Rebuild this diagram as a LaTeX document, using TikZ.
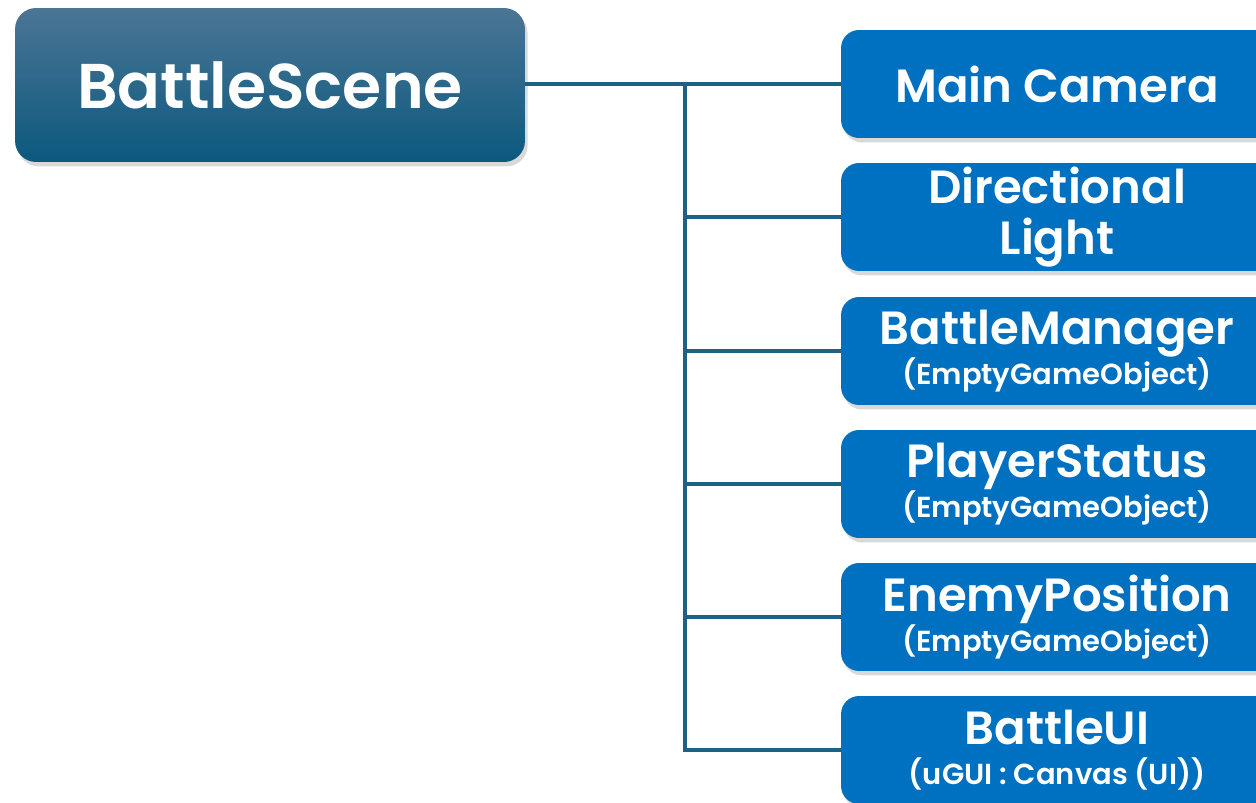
\documentclass[tikz,border=0pt]{standalone}
\usepackage{fontspec}
\setmainfont{Poppins}
\IfFontExistsTF{Poppins SemiBold}
  {\newfontfamily\labelfont{Poppins SemiBold}}
  {\IfFontExistsTF{Poppins Medium}
    {\newfontfamily\labelfont{Poppins Medium}}
    {\newcommand{\labelfont}{\bfseries}}}
\usetikzlibrary{shadows}
\definecolor{roottop}{HTML}{4B7595}
\definecolor{rootmid}{HTML}{1B6488}
\definecolor{rootbot}{HTML}{0B597E}
\definecolor{childblue}{HTML}{0070C0}
\definecolor{linkblue}{HTML}{1D6283}
\newcommand{\subline}[1]{{\fontsize{16.5}{20}\selectfont #1}}
\tikzset{
  rootbox/.style={rounded corners=0.42cm, minimum width=10.2cm, minimum height=3.08cm,
    top color=roottop, middle color=rootmid, bottom color=rootbot, text=white,
    font=\labelfont\fontsize{36}{40}\selectfont,
    drop shadow={shadow xshift=1.5pt, shadow yshift=-2.5pt, opacity=0.3}},
  childbox/.style={rounded corners=0.36cm, minimum width=8.64cm, minimum height=2.16cm,
    fill=childblue, text=white, align=center, inner sep=0pt,
    font=\labelfont\fontsize{26.5}{30}\selectfont,
    drop shadow={shadow xshift=1.5pt, shadow yshift=-2.5pt, opacity=0.3}},
  link/.style={draw=linkblue, line width=2.2pt}
}
\begin{document}
\begin{tikzpicture}[x=0.02cm,y=-0.02cm]
\useasboundingbox (0,0) rectangle (1256,803);
% root scene
\node[rootbox] (root) at (270,85) {BattleScene};
% scene objects
\node[childbox] (cam) at (1057,84) {Main Camera};
\node[childbox] (light) at (1057,217) {Directional\\[-1pt]Light};
\node[childbox] (mgr) at (1057,351) {BattleManager\\[-7pt]\subline{(EmptyGameObject)}};
\node[childbox] (status) at (1057,484) {PlayerStatus\\[-7pt]\subline{(EmptyGameObject)}};
\node[childbox] (enemy) at (1057,617) {EnemyPosition\\[-7pt]\subline{(EmptyGameObject)}};
\node[childbox] (ui) at (1057,750) {BattleUI\\[-7pt]\subline{(uGUI : Canvas (UI))}};
% hierarchy lines
\coordinate (fork) at (685,84);
\draw[link] (root.east |- fork) -- (fork);
\draw[link] (fork) |- (ui.west);
\foreach \n in {cam,light,mgr,status,enemy}
  \draw[link] (fork |- \n.west) -- (\n.west);
\end{tikzpicture}
\end{document}
